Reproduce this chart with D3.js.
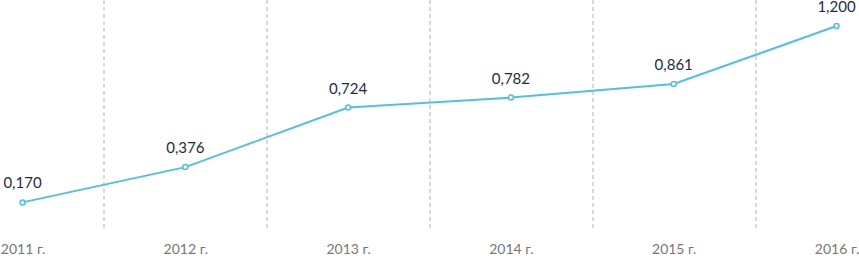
<!DOCTYPE html>
<html>
<head>
<meta charset="utf-8">
<script src="https://cdn.jsdelivr.net/npm/d3@7"></script>
<style>
  body { margin: 0; background: #fff; }
</style>
</head>
<body>
<div id="chart"></div>
<script>
'use strict';

const years = ['2011 г.', '2012 г.', '2013 г.', '2014 г.', '2015 г.', '2016 г.'];
const values = [0.170, 0.376, 0.724, 0.782, 0.861, 1.200];

const dimensions = {
  width: 859,
  height: 258,
  margin: { left: 22.5, right: 22.5, top: 0, bottom: 27 }
}
dimensions.ctrWidth = dimensions.width - dimensions.margin.left - dimensions.margin.right
dimensions.ctrHeight = dimensions.height - dimensions.margin.top - dimensions.margin.bottom

const fmt = d => d3.format('.3f')(d).replace('.', ',')

const svg = d3.select('#chart')
  .append('svg')
  .attr('width', dimensions.width)
  .attr('height', dimensions.height)

const chart_g = svg.append('g')
  .attr('transform', `translate(${dimensions.margin.left}, ${dimensions.margin.top})`)

// scales
const x_scale = d3.scalePoint()
  .domain(years)
  .range([0, dimensions.ctrWidth])

const y_scale = d3.scaleLinear()
  .domain([0, 1.2])
  .range([dimensions.ctrHeight + 0.5, 26])

const step = x_scale.step()

// dashed dividers between years
chart_g.append('g')
  .selectAll('line')
  .data(years.slice(1))
  .join('line')
  .attr('x1', d => Math.round(x_scale(d) - step / 2) + 0.5)
  .attr('x2', d => Math.round(x_scale(d) - step / 2) + 0.5)
  .attr('y1', 0)
  .attr('y2', dimensions.ctrHeight)
  .attr('stroke', '#b3b3b3')
  .attr('stroke-width', 1)
  .attr('stroke-dasharray', '4,3')

// line
const data = years.map((y, i) => ({ key: y, value: values[i] }))

chart_g.append('path')
  .datum(data)
  .attr('fill', 'none')
  .attr('stroke', '#4fc1e1')
  .attr('stroke-width', 2)
  .attr('d', d3.line().x(d => x_scale(d.key)).y(d => y_scale(d.value)))

chart_g.append('g')
  .selectAll('circle')
  .data(data)
  .join('circle')
  .attr('cx', d => x_scale(d.key))
  .attr('cy', d => y_scale(d.value))
  .attr('r', 2.5)
  .attr('fill', '#fff')
  .attr('stroke', '#4fc1e1')
  .attr('stroke-width', 1.5)

// value labels
chart_g.append('g')
  .style('font-family', 'Lato, sans-serif')
  .style('font-size', '15px')
  .attr('fill', '#1d2b4a')
  .selectAll('text')
  .data(data)
  .join('text')
  .attr('x', d => x_scale(d.key))
  .attr('y', d => y_scale(d.value) - 14)
  .attr('text-anchor', 'middle')
  .text(d => fmt(d.value))

// x axis labels
const xAxis = d3.axisBottom(x_scale).tickSize(0).tickPadding(0)
const xAxisGroup = chart_g.append('g')
  .attr('transform', `translate(0, ${dimensions.height - 14})`)
  .call(xAxis)
xAxisGroup.select('.domain').remove()
xAxisGroup.selectAll('text')
  .attr('dy', '0.71em')
  .style('font-family', 'Lato, sans-serif')
  .style('font-size', '14px')
  .attr('fill', '#777777')
</script>
</body>
</html>
